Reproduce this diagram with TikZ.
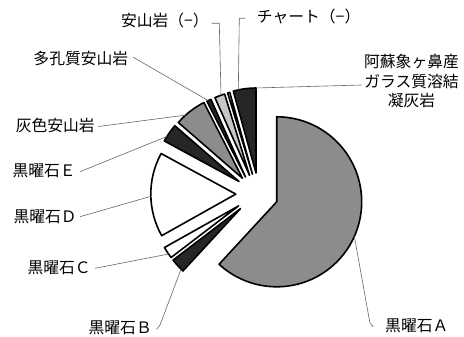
\documentclass[tikz,border=0pt]{standalone}
\usepackage{fontspec}
\setmainfont{Noto Sans CJK JP}
\newcommand{\pieslice}[5]{%
  \coordinate (#1) at #2;
  \path[#5] (#1) -- ++(#3:85) arc[start angle=#3,end angle=#4,radius=85] -- cycle;}
\begin{document}
\begin{tikzpicture}[x=1pt,y=1pt,
  slc/.style={draw=black,line width=1.6pt,line join=round},
  dk/.style={slc,fill=black!85},
  md/.style={slc,fill=black!45},
  lt/.style={slc,fill=black!22},
  wt/.style={slc,fill=white},
  lead/.style={draw=black!60,line width=0.6pt},
  lab/.style={inner sep=0pt,font=\fontsize{15.8}{19.5}\selectfont}]
\useasboundingbox (0,0) rectangle (464,337);
% slices
\pieslice{pA}{(276.7,135.2)}{-132.7}{90}{md}
\pieslice{pAso}{(256,164)}{90}{105.5}{dk}
\pieslice{pCh}{(252.5,162.7)}{105.5}{107}{wt}
\pieslice{pAn}{(249.5,161.7)}{107}{114}{lt}
\pieslice{pTa}{(245.5,160)}{114}{117}{dk}
\pieslice{pHai}{(242.5,158.7)}{117}{139}{md}
\pieslice{pE}{(239,155.5)}{139}{151.5}{dk}
\pieslice{pD}{(235.8,142.9)}{151.5}{209.3}{wt}
\pieslice{pC}{(238.6,131.1)}{209.3}{217.4}{wt}
\pieslice{pB}{(240.6,128.5)}{217.4}{227.3}{dk}
% leader end points on slices
\path (pAn) ++(109.6:85) coordinate (eAn);
\path (pAso) ++(102:85) coordinate (eCh);
\path (pAso) ++(90:85) coordinate (eAso);
\path (pTa) ++(116:85) coordinate (eTa);
\path (pHai) ++(132:85) coordinate (eHai);
\path (pE) ++(148:85) coordinate (eE);
\path (pD) ++(181.5:85) coordinate (eD);
\path (pC) ++(214.5:85) coordinate (eC);
\path (pB) ++(225.5:85) coordinate (eB);
\path (pA) ++(-24:85) coordinate (eA);
% labels
\node[lab,anchor=east] (lAn) at (209,316) {安山岩（−）};
\node[lab,anchor=west] (lCh) at (256.7,320.3) {チャート（−）};
\node[lab,align=center] (lAso) at (411.5,256) {阿蘇象ヶ鼻産\\ガラス質溶結\\凝灰岩};
\node[lab,anchor=east] (lTa) at (128.5,278.7) {多孔質安山岩};
\node[lab,anchor=east] (lHai) at (95,211.5) {灰色安山岩};
\node[lab,anchor=east] (lE) at (76,166.3) {黒曜石Ｅ};
\node[lab,anchor=east] (lD) at (77,120.3) {黒曜石Ｄ};
\node[lab,anchor=east] (lC) at (91,68.7) {黒曜石Ｃ};
\node[lab,anchor=east] (lB) at (152,9.5) {黒曜石Ｂ};
\node[lab,anchor=west] (lA) at (385,11.3) {黒曜石Ａ};
% leaders
\draw[lead] ([shift={(2.7,-2.3)}]lAn.east) -- ++(7.6,0) -- (eAn);
\draw[lead] ([shift={(-11.7,-1.6)}]lCh.west) -- ++(-5.7,0) -- (eCh);
\draw[lead] ([shift={(-2.4,-4)}]lAso.west) -- (eAso);
\draw[lead] ([shift={(4.8,1)}]lTa.east) -- (eTa);
\draw[lead] ([shift={(3.3,-1)}]lHai.east) -- (eHai);
\draw[lead] ([shift={(4,-1)}]lE.east) -- (eE);
\draw[lead] ([shift={(3,0)}]lD.east) -- (eD);
\draw[lead] ([shift={(4,0)}]lC.east) -- (eC);
\draw[lead] ([shift={(4.7,-1.8)}]lB.east) -- ++(3.3,4.3) -- (eB);
\draw[lead] ([shift={(-11.7,-1)}]lA.west) -- ++(-3.3,3.4) -- (eA);
\end{tikzpicture}
\end{document}
